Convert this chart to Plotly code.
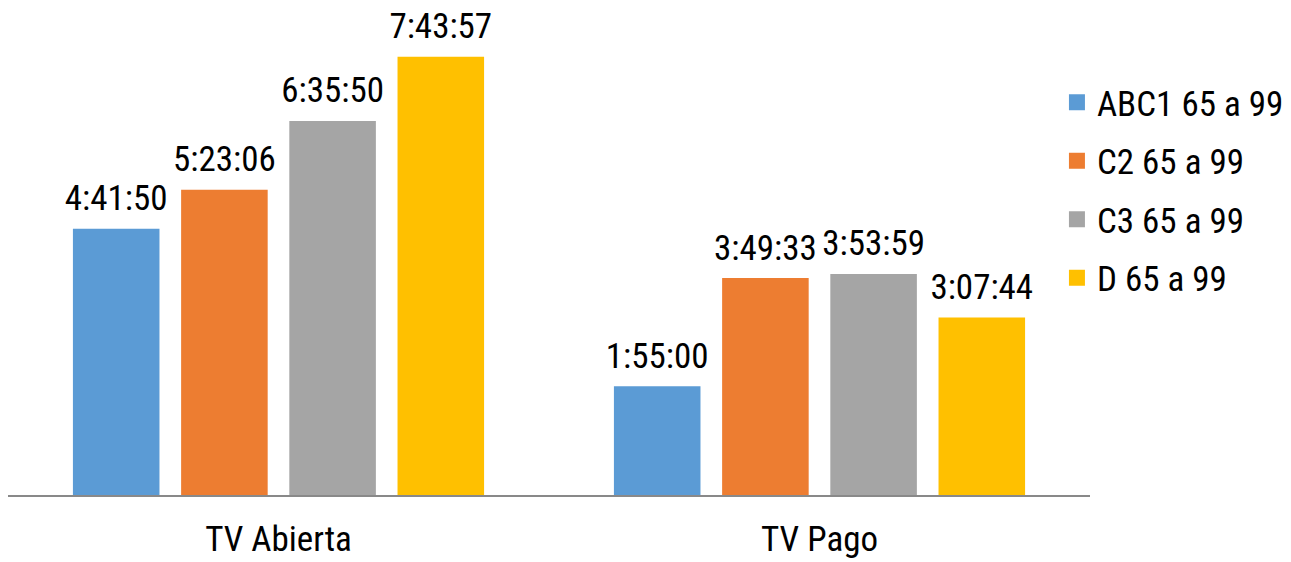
import plotly.graph_objects as go

categories = ["TV Abierta", "TV Pago"]
series_names = ["ABC1 65 a 99", "C2 65 a 99", "C3 65 a 99", "D 65 a 99"]
colors = ["#5B9BD5", "#ED7D31", "#A5A5A5", "#FFC000"]
labels_abc1 = ["4:41:50", "1:55:00"]
labels_c2 = ["5:23:06", "3:49:33"]
labels_c3 = ["6:35:50", "3:53:59"]
labels_d = ["7:43:57", "3:07:44"]
all_labels = [labels_abc1, labels_c2, labels_c3, labels_d]


def to_seconds(s):
    h, m, sec = (int(p) for p in s.split(":"))
    return h * 3600 + m * 60 + sec


FONT = "Liberation Sans Narrow, Arial Narrow, Roboto Condensed, Liberation Sans, Arial, sans-serif"
FS = 35

fig = go.Figure()
for name, color, labs in zip(series_names, colors, all_labels):
    vals = [to_seconds(v) for v in labs]
    fig.add_trace(go.Bar(
        x=categories, y=vals, name=name,
        marker=dict(color=color, line=dict(width=0)),
        legendgroup=name, showlegend=False, offsetgroup=name,
    ))
for name, color, labs in zip(series_names, colors, all_labels):
    vals = [to_seconds(v) for v in labs]
    # value labels, grouped like the bars
    fig.add_trace(go.Scatter(
        x=categories, y=vals, mode="markers+text", text=labs,
        textposition="top center",
        textfont=dict(size=FS, color="#000000", family=FONT),
        marker=dict(size=14, opacity=0, color=color),
        cliponaxis=False, showlegend=False, hoverinfo="skip",
        offsetgroup=name,
    ))
for name, color in zip(series_names, colors):
    # legend entry with a larger square symbol
    fig.add_trace(go.Scatter(
        x=[None], y=[None], mode="markers", name=name,
        marker=dict(symbol="square", size=19, color=color),
        legendgroup=name, showlegend=True,
    ))

fig.update_layout(
    width=1291, height=562,
    margin=dict(l=8, r=201, t=30, b=67, autoexpand=False),
    paper_bgcolor="white", plot_bgcolor="white",
    barmode="group", bargap=0.2, bargroupgap=0.2,
    scattermode="group", scattergap=0.2,
    font=dict(family=FONT, size=FS, color="#000000"),
    showlegend=True,
    legend=dict(xref="container", yref="container",
                x=0.8187, xanchor="left", y=0.8701, yanchor="top",
                font=dict(size=FS, family=FONT, color="#000000"),
                tracegroupgap=10, traceorder="grouped",
                bgcolor="rgba(0,0,0,0)"),
    xaxis=dict(showgrid=False, showline=True, linecolor="#898989", linewidth=1.5,
               ticks="", ticklabelstandoff=12, automargin=False,
               tickfont=dict(size=FS, family=FONT, color="#000000")),
    yaxis=dict(range=[0, 29528], showgrid=False, showline=False, zeroline=False,
               showticklabels=False, ticks="", automargin=False),
)

fig.write_html(
    "out.html",
    config={"displayModeBar": False},
    post_script="document.body.style.margin='0';document.body.style.overflow='hidden';",
)
